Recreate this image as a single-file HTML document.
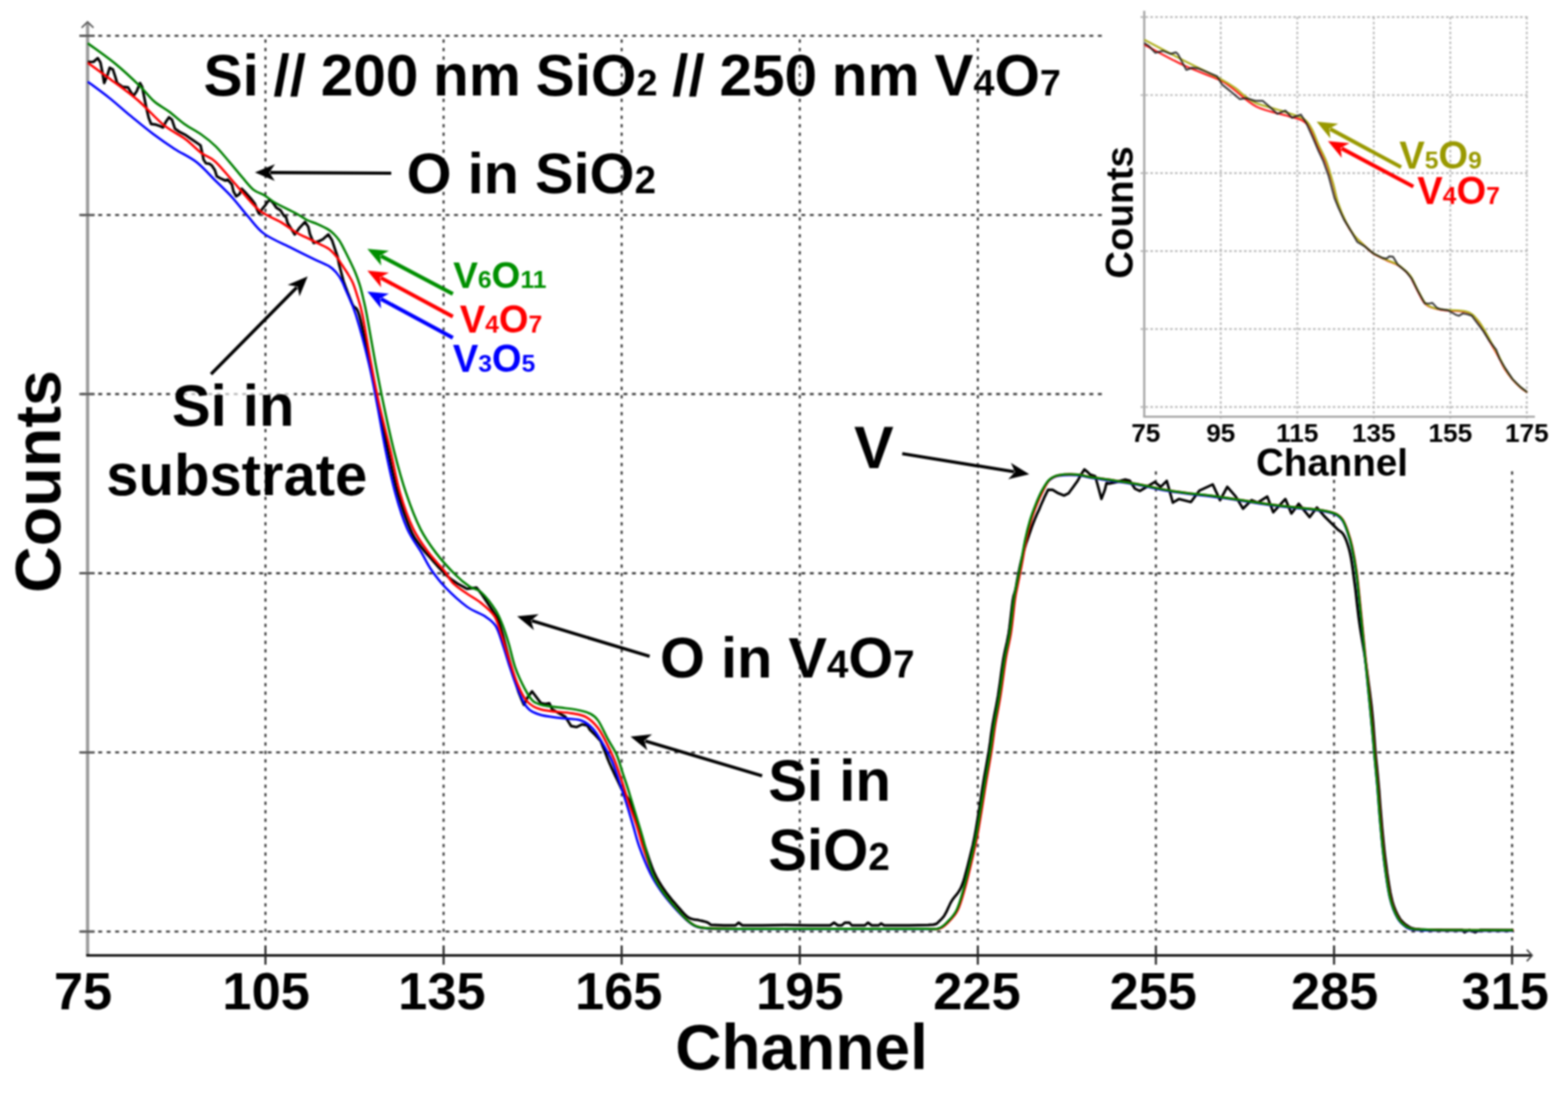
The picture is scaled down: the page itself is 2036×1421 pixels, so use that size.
<!DOCTYPE html>
<html><head><meta charset="utf-8"><title>RBS spectrum</title>
<style>html,body{margin:0;padding:0;background:#fff;width:2036px;height:1421px;overflow:hidden}svg{display:block;filter:blur(0.8px)}</style>
</head><body>
<svg width="2036" height="1421" viewBox="0 0 2036 1421">
<rect width="2036" height="1421" fill="#fff"/>
<line x1="105.6" y1="46.5" x2="1438.0" y2="46.5" stroke="#333" stroke-width="2.6" stroke-dasharray="5 6" fill="none"/>
<line x1="105.6" y1="279.2" x2="1438.0" y2="279.2" stroke="#333" stroke-width="2.6" stroke-dasharray="5 6" fill="none"/>
<line x1="105.6" y1="511.9" x2="1438.0" y2="511.9" stroke="#333" stroke-width="2.6" stroke-dasharray="5 6" fill="none"/>
<line x1="105.6" y1="744.6" x2="1966.0" y2="744.6" stroke="#333" stroke-width="2.6" stroke-dasharray="5 6" fill="none"/>
<line x1="105.6" y1="977.3" x2="1966.0" y2="977.3" stroke="#333" stroke-width="2.6" stroke-dasharray="5 6" fill="none"/>
<line x1="105.6" y1="1210.0" x2="1966.0" y2="1210.0" stroke="#333" stroke-width="2.6" stroke-dasharray="5 6" fill="none"/>
<line x1="344.7" y1="51.2" x2="344.7" y2="1228" stroke="#333" stroke-width="2.6" stroke-dasharray="4.4 6.6" fill="none"/>
<line x1="576.0" y1="51.2" x2="576.0" y2="1228" stroke="#333" stroke-width="2.6" stroke-dasharray="4.4 6.6" fill="none"/>
<line x1="807.2" y1="51.2" x2="807.2" y2="1228" stroke="#333" stroke-width="2.6" stroke-dasharray="4.4 6.6" fill="none"/>
<line x1="1038.5" y1="51.2" x2="1038.5" y2="1228" stroke="#333" stroke-width="2.6" stroke-dasharray="4.4 6.6" fill="none"/>
<line x1="1269.7" y1="51.2" x2="1269.7" y2="1228" stroke="#333" stroke-width="2.6" stroke-dasharray="4.4 6.6" fill="none"/>
<line x1="1500.9" y1="51.2" x2="1500.9" y2="1228" stroke="#333" stroke-width="2.6" stroke-dasharray="4.4 6.6" fill="none"/>
<line x1="1732.2" y1="51.2" x2="1732.2" y2="1228" stroke="#333" stroke-width="2.6" stroke-dasharray="4.4 6.6" fill="none"/>
<line x1="1963.4" y1="51.2" x2="1963.4" y2="1228" stroke="#333" stroke-width="2.6" stroke-dasharray="4.4 6.6" fill="none"/>
<line x1="113.7" y1="29" x2="113.7" y2="1242" stroke="#9a9a9a" stroke-width="4.2"/>
<polyline points="106,36 113.7,28.5 121.4,36" fill="none" stroke="#555" stroke-width="2"/>
<line x1="112" y1="1241" x2="1988" y2="1241" stroke="#000" stroke-width="2.8"/>
<polyline points="1982.5,1233.5 1989.5,1241 1982.5,1248.5" fill="none" stroke="#444" stroke-width="2"/>
<line x1="344.7" y1="1228" x2="344.7" y2="1253" stroke="#222" stroke-width="2.6"/>
<line x1="576.0" y1="1228" x2="576.0" y2="1253" stroke="#222" stroke-width="2.6"/>
<line x1="807.2" y1="1228" x2="807.2" y2="1253" stroke="#222" stroke-width="2.6"/>
<line x1="1038.5" y1="1228" x2="1038.5" y2="1253" stroke="#222" stroke-width="2.6"/>
<line x1="1269.7" y1="1228" x2="1269.7" y2="1253" stroke="#222" stroke-width="2.6"/>
<line x1="1500.9" y1="1228" x2="1500.9" y2="1253" stroke="#222" stroke-width="2.6"/>
<line x1="1732.2" y1="1228" x2="1732.2" y2="1253" stroke="#222" stroke-width="2.6"/>
<line x1="1963.4" y1="1228" x2="1963.4" y2="1253" stroke="#222" stroke-width="2.6"/>
<line x1="103" y1="46.5" x2="123" y2="46.5" stroke="#555" stroke-width="2.8"/>
<line x1="103" y1="279.2" x2="123" y2="279.2" stroke="#555" stroke-width="2.8"/>
<line x1="103" y1="511.9" x2="123" y2="511.9" stroke="#555" stroke-width="2.8"/>
<line x1="103" y1="744.6" x2="123" y2="744.6" stroke="#555" stroke-width="2.8"/>
<line x1="103" y1="977.3" x2="123" y2="977.3" stroke="#555" stroke-width="2.8"/>
<line x1="103" y1="1210.0" x2="123" y2="1210.0" stroke="#555" stroke-width="2.8"/>
<path d="M114.0 80.4 L121.3 80.4 126.9 75.5 130.4 81.1 133.2 95.2 135.3 107.9 139.6 97.3 142.4 88.1 146.6 90.3 149.4 98.7 152.2 107.9 159.3 112.8 166.3 113.5 170.5 120.5 173.3 124.7 177.6 118.4 181.8 107.9 184.6 112.8 187.4 126.9 190.2 140.9 193.1 153.2 196.2 161.0 201.6 161.7 208.6 164.1 211.7 165.6 215.5 157.9 219.4 152.4 223.3 155.5 227.2 167.2 232.6 171.0 240.3 174.9 248.1 180.3 255.8 185.7 260.4 188.8 262.8 199.7 264.3 207.4 267.4 212.1 272.1 212.8 275.2 215.2 279.0 221.0 281.5 229.0 286.0 231.5 292.7 234.6 295.5 233.2 301.1 239.6 303.2 248.7 306.7 255.0 311.0 252.2 313.8 245.2 319.4 250.8 325.7 257.9 330.7 264.2 334.2 273.3 336.3 277.6 341.2 270.5 344.7 266.3 347.6 262.1 350.4 259.3 354.6 263.5 358.8 269.8 364.4 273.3 368.7 280.4 371.4 282.0 373.5 289.7 382.7 304.5 388.3 296.7 396.0 288.3 400.3 294.6 402.4 303.8 407.3 315.7 415.0 312.9 419.3 310.8 426.3 304.5 431.2 312.2 434.7 322.8 438.3 333.3 440.4 343.9 443.2 354.4 446.0 365.0 448.5 372.0 449.0 373.4 449.8 375.4 450.7 377.8 451.6 380.3 452.6 382.7 453.5 385.0 454.3 387.1 455.1 389.1 455.8 391.0 456.6 393.0 457.5 395.0 458.5 397.0 459.6 398.4 460.7 399.2 461.9 399.9 463.2 401.4 464.7 404.3 466.4 409.3 468.4 417.0 470.7 426.9 473.2 438.2 475.8 450.1 478.2 461.9 480.5 472.6 482.5 482.4 484.4 491.8 486.3 501.1 488.1 510.3 489.9 519.5 491.8 528.9 493.8 538.5 495.8 548.1 497.8 557.8 499.9 567.4 501.9 577.0 504.0 586.4 506.0 595.7 508.0 605.0 510.0 614.2 512.1 623.2 514.2 632.1 516.5 640.6 519.0 649.1 521.7 657.6 524.5 665.9 527.3 673.7 530.0 680.8 532.5 687.0 534.8 692.0 536.8 696.0 538.8 699.3 540.8 702.2 542.8 705.0 545.0 708.0 547.3 711.2 549.7 714.1 552.1 717.1 554.7 720.0 557.3 722.9 560.0 726.0 562.9 729.3 566.1 732.9 569.3 736.5 572.6 740.0 575.6 743.2 578.4 746.0 580.8 748.3 582.9 750.1 584.9 751.7 586.8 753.1 588.8 754.5 591.0 756.0 593.6 757.7 596.5 759.4 599.5 761.1 602.3 762.6 604.7 763.9 606.4 764.9 618.8 763.3 625.0 771.1 637.4 789.7 646.7 803.6 653.0 825.0 660.0 852.0 667.0 878.0 673.0 898.0 677.0 908.0 680.3 915.5 685.0 906.0 690.8 898.0 699.3 909.3 702.8 913.5 708.0 914.5 713.3 913.5 716.9 921.2 725.0 926.0 734.0 931.0 738.0 937.4 741.5 943.0 748.5 944.4 755.6 940.9 762.6 942.3 766.1 948.0 773.2 955.0 779.1 961.5 779.8 962.2 780.7 964.5 781.8 967.3 783.0 970.3 784.2 973.2 785.3 976.0 786.3 978.5 787.3 981.0 788.2 983.5 789.2 986.0 790.3 988.7 791.5 991.5 792.9 994.6 794.4 998.0 796.1 1001.5 797.7 1005.1 799.3 1008.5 800.8 1011.6 802.1 1014.4 803.4 1017.1 804.6 1019.6 805.8 1022.1 807.1 1024.6 808.5 1027.1 810.0 1029.5 811.7 1031.7 813.4 1033.9 815.1 1036.3 816.8 1039.1 818.5 1042.6 820.2 1046.9 821.9 1051.9 823.6 1057.4 825.2 1063.0 826.9 1068.4 828.5 1073.5 830.0 1078.1 831.5 1082.4 832.9 1086.6 834.3 1090.8 835.8 1095.2 837.5 1100.0 839.3 1105.3 841.2 1111.1 843.2 1117.0 845.3 1122.9 847.4 1128.5 849.5 1133.6 851.7 1138.1 853.9 1142.2 856.1 1146.0 858.4 1149.6 860.7 1153.1 863.0 1156.5 865.3 1159.8 867.7 1162.9 870.1 1165.9 872.5 1168.8 875.0 1171.6 877.5 1174.5 880.1 1177.5 882.8 1180.7 885.6 1183.9 888.4 1186.9 891.1 1189.5 893.6 1191.5 896.0 1192.9 898.4 1193.7 900.6 1194.2 902.8 1194.5 905.0 1194.7 907.0 1195.1 909.0 1195.6 911.0 1196.0 912.9 1196.5 914.6 1196.9 916.3 1197.3 917.7 1197.8 919.0 1198.4 920.1 1199.0 921.0 1199.7 921.8 1200.3 922.5 1200.8 923.0 1201.2 940.0 1202.0 955.0 1202.0 959.0 1198.5 964.0 1202.0 990.0 1202.0 1020.0 1201.5 1050.0 1202.0 1078.0 1202.0 1083.0 1198.5 1088.0 1202.0 1093.0 1202.0 1097.0 1198.5 1103.0 1198.5 1106.0 1202.0 1123.0 1202.0 1127.0 1198.5 1132.0 1202.0 1141.0 1202.0 1144.0 1199.5 1148.0 1202.0 1180.0 1202.0 1205.0 1201.5 1212.0 1201.0 1215.9 1200.0 1217.2 1198.9 1218.2 1197.9 1219.6 1196.6 1221.2 1195.1 1223.0 1193.2 1224.8 1191.2 1226.4 1188.9 1227.9 1186.2 1229.5 1183.1 1231.0 1179.8 1232.6 1176.4 1234.1 1173.1 1235.7 1170.3 1237.3 1167.9 1238.9 1165.8 1240.5 1163.8 1242.1 1161.9 1243.6 1160.0 1245.0 1157.9 1246.2 1155.8 1247.2 1154.0 1248.2 1152.0 1249.1 1149.8 1250.1 1147.2 1251.2 1144.0 1252.4 1140.0 1253.7 1135.2 1255.1 1130.0 1256.5 1124.7 1257.8 1119.5 1259.0 1114.6 1260.1 1110.2 1261.1 1106.1 1262.1 1102.1 1263.1 1098.1 1264.0 1093.8 1265.0 1089.0 1266.0 1083.8 1267.0 1078.2 1268.0 1072.3 1269.0 1066.3 1270.0 1060.1 1271.0 1054.0 1272.0 1047.8 1273.0 1041.5 1273.9 1035.0 1274.9 1028.5 1275.9 1022.0 1277.0 1015.5 1278.1 1008.9 1279.3 1002.3 1280.5 995.6 1281.7 988.9 1282.8 982.4 1283.9 976.0 1284.8 969.9 1285.7 963.9 1286.4 958.1 1287.2 952.3 1288.1 946.5 1289.0 940.5 1290.1 934.5 1291.2 928.6 1292.4 922.6 1293.6 916.5 1294.8 910.1 1296.0 903.3 1297.1 895.8 1298.3 887.8 1299.4 879.4 1300.5 871.1 1301.7 863.2 1302.8 856.0 1304.0 849.7 1305.2 844.0 1306.4 838.8 1307.6 833.6 1308.7 828.2 1309.8 822.2 1310.8 815.3 1311.7 807.7 1312.6 799.9 1313.5 792.3 1314.3 785.5 1315.0 780.0 1315.7 776.2 1316.2 773.8 1316.7 772.2 1317.2 770.7 1317.8 768.8 1318.5 765.8 1319.4 761.5 1320.3 756.4 1321.3 750.8 1322.4 745.1 1323.5 739.7 1324.5 734.8 1325.5 730.5 1326.5 726.4 1327.5 722.6 1328.5 718.9 1329.5 715.4 1330.5 712.0 1331.5 708.7 1332.5 705.5 1333.6 702.5 1334.6 699.5 1335.6 696.7 1336.5 694.0 1337.4 691.4 1338.3 688.9 1339.1 686.5 1339.9 684.2 1340.7 682.1 1341.5 680.0 1342.2 678.1 1342.9 676.3 1343.6 674.6 1344.2 673.0 1344.9 671.5 1345.5 670.0 1346.1 668.6 1346.6 667.5 1347.2 666.3 1347.8 665.1 1348.4 663.7 1349.2 662.0 1350.1 659.8 1351.2 657.2 1352.4 654.4 1353.6 651.6 1354.8 649.0 1355.8 646.6 1356.8 644.5 1357.8 642.4 1358.8 640.5 1359.6 638.8 1360.4 637.4 1360.9 636.3 1366.8 636.3 1374.2 640.7 1381.6 643.6 1387.5 640.7 1394.1 631.8 1399.3 624.5 1403.7 616.4 1408.1 609.7 1412.5 613.4 1415.5 616.4 1422.1 618.6 1425.0 628.9 1430.2 648.0 1434.6 636.3 1436.8 627.4 1440.5 628.2 1447.9 626.7 1455.3 624.5 1461.1 623.0 1467.0 624.5 1473.7 634.8 1480.0 637.7 1488.0 633.0 1499.3 626.1 1507.2 632.4 1515.0 624.6 1522.9 652.9 1530.7 648.2 1546.4 652.1 1557.4 637.2 1574.7 629.3 1584.2 649.7 1593.6 632.4 1604.6 645.0 1614.0 660.7 1625.0 649.7 1632.9 652.9 1645.5 645.0 1653.3 665.4 1669.0 648.2 1676.9 667.0 1686.3 654.4 1700.5 671.7 1709.9 659.2 1719.3 670.2 1727.2 678.0 1728.2 679.0 1729.7 680.5 1731.4 682.2 1733.2 684.0 1735.0 685.8 1736.6 687.4 1738.1 688.7 1739.6 689.7 1741.0 690.7 1742.5 691.9 1743.9 693.5 1745.3 695.8 1746.7 698.7 1748.1 702.0 1749.4 705.7 1750.7 709.8 1752.0 714.4 1753.2 719.4 1754.3 724.9 1755.3 731.0 1756.3 737.5 1757.2 744.3 1758.1 751.5 1759.1 758.8 1760.1 766.4 1761.0 774.5 1761.9 782.8 1762.9 791.3 1763.9 799.8 1765.0 808.1 1766.2 816.2 1767.5 824.1 1768.8 832.1 1770.2 840.2 1771.6 848.5 1772.9 857.3 1774.3 866.8 1775.7 877.1 1777.1 887.6 1778.5 897.9 1779.7 907.7 1780.8 916.5 1781.6 924.3 1782.3 931.5 1782.9 938.0 1783.4 944.1 1783.8 949.7 1784.2 955.0 1784.6 959.5 1784.8 963.0 1785.1 966.1 1785.3 969.2 1785.6 972.8 1786.0 977.5 1786.5 983.2 1787.2 989.6 1787.9 996.5 1788.6 1003.8 1789.3 1011.2 1790.0 1018.8 1790.7 1026.5 1791.3 1034.6 1791.9 1042.9 1792.6 1051.3 1793.3 1059.7 1794.0 1068.0 1794.7 1076.2 1795.5 1084.4 1796.3 1092.6 1797.1 1100.7 1798.0 1108.9 1799.0 1117.0 1800.1 1125.3 1801.2 1133.9 1802.5 1142.5 1803.8 1150.7 1805.1 1158.3 1806.5 1165.0 1807.9 1170.7 1809.4 1175.7 1811.0 1180.0 1812.6 1183.8 1814.3 1187.3 1816.0 1190.5 1817.8 1193.4 1819.6 1195.8 1821.6 1197.8 1823.5 1199.6 1825.5 1201.1 1827.5 1202.5 1829.3 1203.7 1830.9 1204.6 1832.6 1205.3 1834.5 1205.9 1836.9 1206.4 1840.0 1206.8 1844.0 1207.2 1848.7 1207.4 1854.0 1207.6 1859.4 1207.6 1864.9 1207.7 1870.0 1207.8 1875.2 1207.9 1880.8 1207.9 1886.4 1208.0 1891.5 1208.0 1895.9 1208.0 1899.0 1208.0 1901.6 1211.0 1908.0 1208.0 1915.4 1211.0 1922.0 1208.0 1965.0 1208.2" fill="none" stroke="#000000" stroke-width="3.4" stroke-linejoin="round"/>
<path d="M114.0 106.1 C118.7 109.6 132.8 119.8 142.2 127.3 C151.6 134.8 161.0 143.5 170.4 151.2 C179.8 158.9 189.1 166.7 198.5 173.7 C207.9 180.7 217.3 187.3 226.7 193.4 C236.1 199.5 245.9 203.4 254.8 210.3 C263.7 217.2 272.3 227.3 280.0 234.9 C287.7 242.5 294.1 248.3 301.1 256.0 C308.1 263.7 315.2 273.3 322.2 281.3 C329.2 289.3 333.9 297.1 343.3 303.9 C352.7 310.7 367.9 316.8 378.5 322.2 C389.1 327.6 398.5 332.2 406.7 336.2 C414.9 340.2 422.8 343.1 427.8 346.1 C432.8 349.1 434.2 351.2 436.9 354.4 C439.6 357.5 441.8 361.1 443.9 365.0 C446.0 368.9 446.4 370.6 449.5 378.0 C452.6 385.4 457.3 393.5 462.2 409.3 C467.1 425.1 474.4 452.7 479.1 472.6 C483.8 492.5 486.8 509.9 490.4 528.9 C494.0 547.9 497.2 567.8 501.0 586.4 C504.8 605.0 508.7 623.8 513.3 640.6 C517.9 657.4 523.1 674.1 528.8 687.0 C534.5 699.9 542.2 709.1 547.4 718.0 C552.6 726.9 554.8 732.6 560.0 740.1 C565.2 747.6 570.9 755.3 578.6 763.3 C586.3 771.3 597.9 781.9 606.4 788.1 C614.9 794.3 623.5 796.4 629.7 800.5 C635.9 804.6 639.7 806.7 643.6 812.9 C647.5 819.1 649.8 828.7 652.9 837.7 C656.0 846.7 659.1 857.8 662.2 867.1 C665.3 876.4 667.9 884.9 671.5 893.4 C675.1 901.9 679.1 912.4 683.9 918.2 C688.7 924.0 693.0 925.6 700.1 928.0 C707.2 930.4 717.4 931.3 726.4 932.6 C735.4 933.9 747.1 933.4 754.3 935.7 C761.5 938.0 765.1 941.7 769.8 946.6 C774.4 951.5 778.1 958.2 782.2 965.2 C786.3 972.2 791.0 980.1 794.6 988.4 C798.2 996.6 800.8 1005.7 803.9 1014.7 C807.0 1023.7 810.0 1032.8 813.1 1042.6 C816.2 1052.4 819.5 1063.9 822.4 1073.5 C825.2 1083.1 826.6 1090.0 830.2 1100.0 C833.8 1110.0 839.3 1124.0 844.0 1133.6 C848.7 1143.2 853.5 1150.5 858.5 1157.7 C863.5 1164.9 868.6 1170.9 874.0 1177.0 C879.4 1183.1 885.9 1190.1 890.9 1194.5 C895.9 1198.9 899.4 1201.6 904.3 1203.6 C909.2 1205.5 911.1 1205.7 920.4 1206.2 C929.7 1206.7 930.1 1206.7 960.0 1206.8 C989.9 1206.9 1060.0 1206.8 1100.0 1206.8 C1140.0 1206.8 1180.1 1206.9 1200.0 1206.8 C1219.9 1206.7 1214.2 1207.3 1219.2 1205.9 C1224.2 1204.5 1226.1 1202.1 1230.0 1198.2 C1233.9 1194.3 1238.8 1189.9 1242.4 1182.7 C1246.0 1175.5 1248.9 1164.6 1251.7 1154.8 C1254.5 1145.0 1256.9 1134.7 1259.5 1123.9 C1262.1 1113.1 1264.9 1101.4 1267.2 1089.8 C1269.5 1078.2 1271.3 1066.6 1273.4 1054.2 C1275.5 1041.8 1277.4 1028.5 1279.6 1015.5 C1281.8 1002.5 1284.4 988.5 1286.4 976.0 C1288.4 963.5 1289.5 952.6 1291.5 940.5 C1293.5 928.4 1296.0 917.4 1298.2 903.3 C1300.5 889.2 1302.8 869.5 1305.0 856.0 C1307.2 842.5 1309.7 834.9 1311.7 822.2 C1313.7 809.5 1315.5 789.4 1316.8 780.0 C1318.1 770.6 1317.8 773.3 1319.3 765.8 C1320.8 758.3 1323.4 745.6 1325.5 734.8 C1327.6 724.0 1329.6 710.6 1331.7 700.8 C1333.8 691.0 1335.6 683.8 1337.9 676.0 C1340.2 668.2 1343.1 660.8 1345.7 654.3 C1348.3 647.8 1350.7 642.3 1353.4 637.3 C1356.2 632.3 1358.7 627.3 1362.2 624.1 C1365.7 620.9 1368.4 619.1 1374.6 618.0 C1380.8 616.9 1392.6 616.8 1399.3 617.2 C1406.0 617.6 1407.0 619.0 1414.8 620.3 C1422.5 621.6 1434.9 623.2 1445.8 624.9 C1456.7 626.6 1467.2 628.0 1480.0 630.3 C1492.8 632.6 1505.3 636.0 1522.9 638.7 C1540.5 641.4 1564.8 643.7 1585.7 646.6 C1606.7 649.5 1627.6 653.2 1648.6 656.0 C1669.6 658.8 1697.4 661.1 1711.5 663.1 C1725.6 665.1 1727.8 665.7 1733.0 667.8 C1738.2 669.9 1740.2 671.9 1742.9 675.7 C1745.7 679.5 1747.5 685.0 1749.5 690.8 C1751.5 696.6 1753.3 701.6 1755.2 710.4 C1757.1 719.2 1759.1 729.0 1761.1 743.8 C1763.1 758.6 1765.0 780.0 1767.0 799.0 C1769.0 818.0 1770.9 838.4 1772.9 858.1 C1774.9 877.8 1777.3 901.8 1778.8 917.3 C1780.3 932.8 1781.1 940.6 1782.0 950.8 C1782.9 961.0 1783.4 966.8 1784.4 978.3 C1785.5 989.8 1787.0 1004.5 1788.3 1019.6 C1789.6 1034.7 1790.7 1052.5 1792.2 1068.9 C1793.7 1085.3 1795.1 1101.8 1797.2 1118.2 C1799.3 1134.6 1802.0 1155.0 1805.0 1167.5 C1808.0 1180.0 1811.3 1186.9 1814.9 1193.1 C1818.5 1199.3 1822.8 1202.4 1826.7 1204.9 C1830.7 1207.4 1831.4 1207.2 1838.6 1207.9 C1845.8 1208.5 1848.9 1208.6 1870.0 1208.8 C1891.1 1209.0 1949.2 1209.0 1965.0 1209.1" fill="none" stroke="#0000ff" stroke-width="3" stroke-linejoin="round"/>
<path d="M114.0 81.5 C118.7 84.9 131.2 93.9 142.0 102.0 C152.8 110.1 167.0 119.9 178.8 130.0 C190.6 140.1 202.3 154.0 212.6 162.4 C222.9 170.8 232.5 174.6 240.7 180.7 C248.9 186.8 255.3 194.1 261.9 199.0 C268.4 203.9 272.3 203.2 280.0 210.3 C287.7 217.5 298.7 231.5 308.1 241.9 C317.5 252.3 326.9 265.1 336.3 272.9 C345.7 280.6 356.4 283.6 364.4 288.4 C372.4 293.2 378.5 298.3 384.1 301.7 C389.7 305.1 393.4 306.4 398.1 308.7 C402.8 311.0 407.5 313.3 412.2 315.7 C416.9 318.1 422.2 319.9 426.3 322.8 C430.4 325.7 434.0 329.8 436.9 333.3 C439.8 336.8 441.6 340.4 443.9 343.9 C446.2 347.4 448.5 350.5 450.9 354.4 C453.2 358.3 455.9 362.3 458.0 367.1 C460.1 371.9 461.4 376.0 463.5 383.0 C465.6 390.0 467.6 394.4 470.7 409.3 C473.8 424.2 478.1 452.7 481.9 472.6 C485.6 492.5 489.0 509.9 493.2 528.9 C497.4 547.9 502.8 567.8 507.2 586.4 C511.6 605.0 514.6 623.8 519.5 640.6 C524.4 657.4 530.4 674.1 536.6 687.0 C542.8 699.9 550.0 709.0 556.7 718.0 C563.4 727.0 571.6 734.8 576.8 741.3 C582.0 747.8 582.8 752.0 587.7 757.0 C592.6 762.0 600.2 766.7 606.4 771.1 C612.6 775.5 619.0 778.6 625.0 783.5 C631.0 788.4 637.7 793.5 642.1 800.5 C646.5 807.5 648.2 816.3 651.3 825.3 C654.4 834.3 657.2 844.4 660.6 854.7 C664.0 865.0 667.6 877.9 671.5 887.2 C675.4 896.5 678.6 904.6 683.9 910.4 C689.2 916.2 693.5 919.1 703.2 921.8 C712.9 924.5 732.4 924.8 741.9 926.4 C751.4 928.0 754.8 928.0 760.5 931.1 C766.2 934.2 771.4 939.1 776.0 945.0 C780.6 950.9 784.8 959.7 788.4 966.7 C792.0 973.7 794.6 979.1 797.7 986.8 C800.8 994.5 803.9 1003.8 807.0 1013.1 C810.1 1022.4 812.9 1032.5 816.2 1042.6 C819.6 1052.7 824.0 1063.9 827.1 1073.5 C830.2 1083.1 831.5 1090.0 834.8 1100.0 C838.1 1110.0 842.6 1124.0 846.8 1133.6 C851.0 1143.2 855.5 1150.6 860.2 1157.7 C864.9 1164.8 869.8 1170.4 874.9 1176.4 C880.0 1182.4 886.0 1189.3 890.9 1193.8 C895.8 1198.3 899.4 1201.2 904.3 1203.2 C909.2 1205.2 911.1 1205.2 920.4 1205.8 C929.7 1206.3 930.1 1206.4 960.0 1206.5 C989.9 1206.6 1060.0 1206.5 1100.0 1206.5 C1140.0 1206.5 1180.0 1206.6 1200.0 1206.5 C1220.0 1206.4 1215.0 1207.3 1220.2 1205.9 C1225.4 1204.5 1227.1 1202.1 1231.0 1198.2 C1234.9 1194.3 1239.8 1189.9 1243.4 1182.7 C1247.0 1175.5 1249.9 1164.6 1252.7 1154.8 C1255.5 1145.0 1257.9 1134.7 1260.5 1123.9 C1263.1 1113.1 1265.9 1101.4 1268.2 1089.8 C1270.5 1078.2 1272.3 1066.6 1274.4 1054.2 C1276.5 1041.8 1278.4 1028.5 1280.6 1015.5 C1282.8 1002.5 1285.4 988.5 1287.4 976.0 C1289.4 963.5 1290.5 952.6 1292.5 940.5 C1294.5 928.4 1297.0 917.4 1299.2 903.3 C1301.5 889.2 1303.8 869.5 1306.0 856.0 C1308.2 842.5 1310.7 834.9 1312.7 822.2 C1314.7 809.5 1316.5 789.4 1317.8 780.0 C1319.1 770.6 1318.8 773.3 1320.3 765.8 C1321.8 758.3 1324.4 745.6 1326.5 734.8 C1328.6 724.0 1330.6 710.6 1332.7 700.8 C1334.8 691.0 1336.6 683.8 1338.9 676.0 C1341.2 668.2 1344.1 660.8 1346.7 654.3 C1349.3 647.8 1351.7 642.5 1354.4 637.3 C1357.1 632.1 1359.2 626.6 1362.7 623.3 C1366.2 619.9 1368.9 618.4 1375.1 617.2 C1381.3 616.1 1393.1 616.0 1399.8 616.4 C1406.5 616.8 1407.5 618.2 1415.3 619.5 C1423.0 620.8 1435.4 622.4 1446.3 624.1 C1457.2 625.8 1467.7 627.2 1480.5 629.5 C1493.3 631.8 1505.8 635.2 1523.4 637.9 C1541.0 640.6 1565.2 642.9 1586.2 645.8 C1607.2 648.7 1628.1 652.5 1649.1 655.2 C1670.1 658.0 1697.9 660.3 1712.0 662.3 C1726.1 664.3 1728.3 664.9 1733.5 667.0 C1738.7 669.1 1740.7 671.1 1743.4 674.9 C1746.2 678.7 1748.0 684.2 1750.0 690.0 C1752.0 695.8 1753.8 700.8 1755.7 709.6 C1757.6 718.4 1759.6 728.2 1761.6 743.0 C1763.6 757.8 1765.5 779.2 1767.5 798.2 C1769.5 817.2 1771.4 837.6 1773.4 857.3 C1775.4 877.0 1777.8 901.0 1779.3 916.5 C1780.8 932.0 1781.6 939.8 1782.5 950.0 C1783.4 960.2 1783.9 966.0 1784.9 977.5 C1786.0 989.0 1787.5 1003.7 1788.8 1018.8 C1790.1 1033.9 1791.2 1051.7 1792.7 1068.1 C1794.2 1084.5 1795.6 1101.0 1797.7 1117.4 C1799.8 1133.8 1802.5 1154.2 1805.5 1166.7 C1808.5 1179.2 1811.8 1186.1 1815.4 1192.3 C1819.0 1198.5 1823.2 1201.6 1827.2 1204.1 C1831.2 1206.6 1831.9 1206.4 1839.1 1207.1 C1846.3 1207.8 1849.4 1207.8 1870.5 1208.0 C1891.6 1208.2 1949.7 1208.2 1965.5 1208.3" fill="none" stroke="#ff0000" stroke-width="3" stroke-linejoin="round"/>
<path d="M114.0 56.2 C120.0 60.7 138.7 73.7 150.0 83.0 C161.3 92.3 173.3 103.7 181.6 111.8 C189.9 119.9 193.7 126.0 200.0 131.5 C206.3 137.0 212.9 140.0 219.6 145.0 C226.3 150.0 232.9 156.5 240.0 161.5 C247.1 166.5 255.2 170.3 261.9 175.1 C268.6 179.8 274.1 184.2 280.0 190.0 C285.9 195.8 291.7 203.2 297.6 210.0 C303.5 216.8 309.9 225.0 315.2 231.1 C320.5 237.2 324.6 242.8 329.3 246.6 C334.0 250.3 338.6 250.8 343.3 253.6 C348.0 256.4 350.6 259.6 357.4 263.5 C364.2 267.4 377.3 273.3 384.1 277.0 C390.9 280.7 393.4 283.1 398.1 285.5 C402.8 287.9 407.5 289.0 412.2 291.1 C416.9 293.2 422.8 296.0 426.3 298.1 C429.8 300.2 431.0 301.5 433.3 303.8 C435.6 306.1 438.0 308.7 440.4 312.2 C442.8 315.7 445.1 320.4 447.4 324.9 C449.7 329.4 452.0 334.1 454.4 339.0 C456.8 343.9 459.4 349.2 461.5 354.4 C463.6 359.6 465.4 364.6 467.1 370.0 C468.8 375.4 470.0 380.4 471.5 387.0 C473.0 393.6 473.6 395.0 476.3 409.3 C479.0 423.6 483.9 452.7 487.6 472.6 C491.4 492.5 494.8 509.9 498.8 528.9 C502.8 547.9 507.1 567.8 511.8 586.4 C516.5 605.0 521.6 623.8 527.3 640.6 C533.0 657.4 539.4 674.1 545.9 687.0 C552.4 699.9 558.5 708.1 566.0 718.0 C573.5 727.9 583.8 739.0 591.0 746.3 C598.2 753.6 603.8 757.9 609.5 761.8 C615.2 765.7 619.3 764.3 625.0 769.5 C630.7 774.7 639.0 785.6 643.6 792.8 C648.2 800.0 650.1 805.7 652.9 812.9 C655.7 820.1 657.9 827.1 660.6 836.1 C663.3 845.1 665.5 857.1 669.0 867.0 C672.5 876.9 677.8 887.9 681.7 895.2 C685.6 902.5 688.1 907.2 692.2 910.7 C696.3 914.2 700.4 914.9 706.3 916.3 C712.2 917.7 720.4 918.2 727.4 919.1 C734.4 920.0 742.0 920.6 748.5 921.9 C755.0 923.2 761.4 924.5 766.1 926.9 C770.8 929.2 772.8 930.5 776.7 936.0 C780.6 941.5 785.3 952.6 789.3 960.0 C793.3 967.4 797.6 973.3 800.8 980.6 C804.0 987.9 805.9 996.1 808.5 1003.9 C811.1 1011.6 813.4 1018.1 816.2 1027.1 C819.0 1036.1 822.4 1047.7 825.5 1058.0 C828.6 1068.3 831.2 1076.4 834.8 1089.0 C838.3 1101.6 842.6 1122.1 846.8 1133.6 C851.0 1145.0 855.5 1150.6 860.2 1157.7 C864.9 1164.8 869.8 1170.4 874.9 1176.4 C880.0 1182.4 886.0 1189.3 890.9 1193.8 C895.8 1198.3 899.4 1201.2 904.3 1203.2 C909.2 1205.2 911.1 1205.2 920.4 1205.8 C929.7 1206.3 930.1 1206.4 960.0 1206.5 C989.9 1206.6 1060.0 1206.5 1100.0 1206.5 C1140.0 1206.5 1180.2 1206.6 1200.0 1206.5 C1219.8 1206.4 1213.8 1207.3 1218.7 1205.9 C1223.6 1204.5 1225.6 1202.1 1229.5 1198.2 C1233.4 1194.3 1238.3 1189.9 1241.9 1182.7 C1245.5 1175.5 1248.4 1164.6 1251.2 1154.8 C1254.0 1145.0 1256.4 1134.7 1259.0 1123.9 C1261.6 1113.1 1264.4 1101.4 1266.7 1089.8 C1269.0 1078.2 1270.8 1066.6 1272.9 1054.2 C1275.0 1041.8 1276.9 1028.5 1279.1 1015.5 C1281.3 1002.5 1283.9 988.5 1285.9 976.0 C1287.9 963.5 1289.0 952.6 1291.0 940.5 C1293.0 928.4 1295.5 917.4 1297.7 903.3 C1300.0 889.2 1302.2 869.5 1304.5 856.0 C1306.8 842.5 1309.2 834.9 1311.2 822.2 C1313.2 809.5 1315.0 789.4 1316.3 780.0 C1317.6 770.6 1317.3 773.3 1318.8 765.8 C1320.2 758.3 1322.9 745.6 1325.0 734.8 C1327.1 724.0 1329.1 710.6 1331.2 700.8 C1333.3 691.0 1335.1 683.8 1337.4 676.0 C1339.7 668.2 1342.6 660.8 1345.2 654.3 C1347.8 647.8 1350.1 642.5 1352.9 637.3 C1355.7 632.1 1358.6 626.6 1362.2 623.3 C1365.8 619.9 1368.4 618.4 1374.6 617.2 C1380.8 616.1 1392.6 616.0 1399.3 616.4 C1406.0 616.8 1407.0 618.2 1414.8 619.5 C1422.5 620.8 1434.9 622.4 1445.8 624.1 C1456.7 625.8 1467.2 627.2 1480.0 629.5 C1492.8 631.8 1505.3 635.2 1522.9 637.9 C1540.5 640.6 1564.8 642.9 1585.7 645.8 C1606.7 648.7 1627.6 652.5 1648.6 655.2 C1669.6 658.0 1697.4 660.3 1711.5 662.3 C1725.6 664.3 1727.8 664.9 1733.0 667.0 C1738.2 669.1 1740.2 671.1 1742.9 674.9 C1745.7 678.7 1747.5 684.2 1749.5 690.0 C1751.5 695.8 1753.3 700.8 1755.2 709.6 C1757.1 718.4 1759.1 728.2 1761.1 743.0 C1763.1 757.8 1765.0 779.2 1767.0 798.2 C1769.0 817.2 1770.9 837.6 1772.9 857.3 C1774.9 877.0 1777.3 901.0 1778.8 916.5 C1780.3 932.0 1781.1 939.8 1782.0 950.0 C1782.9 960.2 1783.4 966.0 1784.4 977.5 C1785.5 989.0 1787.0 1003.7 1788.3 1018.8 C1789.6 1033.9 1790.7 1051.7 1792.2 1068.1 C1793.7 1084.5 1795.1 1101.0 1797.2 1117.4 C1799.3 1133.8 1802.0 1154.2 1805.0 1166.7 C1808.0 1179.2 1811.3 1186.1 1814.9 1192.3 C1818.5 1198.5 1822.8 1201.6 1826.7 1204.1 C1830.7 1206.6 1831.4 1206.4 1838.6 1207.1 C1845.8 1207.8 1848.9 1207.8 1870.0 1208.0 C1891.1 1208.2 1949.2 1208.2 1965.0 1208.3" fill="none" stroke="#008000" stroke-width="3" stroke-linejoin="round"/>
<line x1="508.0" y1="225.0" x2="351.0" y2="224.1" stroke="#000" stroke-width="4.2"/><polygon points="331.0,224.0 357.1,213.3 349.7,224.1 356.9,234.9" fill="#000"/>
<line x1="274.0" y1="486.0" x2="385.4" y2="373.2" stroke="#000" stroke-width="4.2"/><polygon points="399.5,359.0 388.9,385.1 386.3,372.3 373.5,369.9" fill="#000"/>
<line x1="588.0" y1="381.8" x2="494.7" y2="332.5" stroke="#008f00" stroke-width="5.0"/><polygon points="477.0,323.2 505.0,325.8 493.6,331.9 495.0,344.9" fill="#008f00"/>
<line x1="588.0" y1="411.2" x2="494.6" y2="360.9" stroke="#ff0000" stroke-width="5.0"/><polygon points="477.0,351.4 505.0,354.2 493.5,360.3 494.8,373.2" fill="#ff0000"/>
<line x1="588.0" y1="438.7" x2="494.6" y2="388.3" stroke="#0000ff" stroke-width="5.0"/><polygon points="477.0,378.8 505.0,381.6 493.5,387.7 494.8,400.7" fill="#0000ff"/>
<line x1="843.5" y1="852.5" x2="690.6" y2="806.3" stroke="#000" stroke-width="4.2"/><polygon points="671.5,800.5 699.5,797.7 689.4,805.9 693.3,818.4" fill="#000"/>
<line x1="989.6" y1="1007.8" x2="837.9" y2="962.4" stroke="#000" stroke-width="4.2"/><polygon points="818.7,956.7 846.7,953.8 836.6,962.1 840.5,974.5" fill="#000"/>
<line x1="1171.5" y1="589.2" x2="1316.8" y2="612.8" stroke="#000" stroke-width="4.2"/><polygon points="1336.5,616.0 1309.1,622.5 1318.0,613.0 1312.6,601.2" fill="#000"/>
<rect x="222" y="505" width="160" height="14" fill="#fff" opacity="0.65"/>
<text x="264.2" y="123.7" font-size="76.0" fill="#000" text-anchor="start" style="font-family:'Liberation Sans',Arial,Helvetica,sans-serif;font-weight:bold" word-spacing="-2">Si // 200 nm SiO<tspan font-size="49.0">2</tspan> // 250 nm V<tspan font-size="49.0">4</tspan>O<tspan font-size="49.0">7</tspan></text>
<text x="528.0" y="250.9" font-size="75.0" fill="#000" text-anchor="start" style="font-family:'Liberation Sans',Arial,Helvetica,sans-serif;font-weight:bold" >O in SiO<tspan font-size="50.0">2</tspan></text>
<text x="588.5" y="373.9" font-size="48.0" fill="#009000" text-anchor="start" style="font-family:'Liberation Sans',Arial,Helvetica,sans-serif;font-weight:bold" >V<tspan font-size="32.0">6</tspan>O<tspan font-size="32.0">11</tspan></text>
<text x="597.0" y="431.6" font-size="49.5" fill="#ff0000" text-anchor="start" style="font-family:'Liberation Sans',Arial,Helvetica,sans-serif;font-weight:bold" >V<tspan font-size="32.0">4</tspan>O<tspan font-size="32.0">7</tspan></text>
<text x="588.0" y="483.0" font-size="49.5" fill="#0000ff" text-anchor="start" style="font-family:'Liberation Sans',Arial,Helvetica,sans-serif;font-weight:bold" >V<tspan font-size="32.0">3</tspan>O<tspan font-size="32.0">5</tspan></text>
<text x="302.7" y="552.8" font-size="75.3" fill="#000" text-anchor="middle" style="font-family:'Liberation Sans',Arial,Helvetica,sans-serif;font-weight:bold" >Si in</text>
<text x="307.5" y="642.9" font-size="75.3" fill="#000" text-anchor="middle" style="font-family:'Liberation Sans',Arial,Helvetica,sans-serif;font-weight:bold" >substrate</text>
<text x="1109.0" y="608.3" font-size="77.0" fill="#000" text-anchor="start" style="font-family:'Liberation Sans',Arial,Helvetica,sans-serif;font-weight:bold" >V</text>
<text x="857.0" y="879.7" font-size="75.0" fill="#000" text-anchor="start" style="font-family:'Liberation Sans',Arial,Helvetica,sans-serif;font-weight:bold" >O in V<tspan font-size="50.0">4</tspan>O<tspan font-size="50.0">7</tspan></text>
<text x="997.5" y="1040.2" font-size="75.5" fill="#000" text-anchor="start" style="font-family:'Liberation Sans',Arial,Helvetica,sans-serif;font-weight:bold" >Si in</text>
<text x="997.5" y="1129.6" font-size="75.5" fill="#000" text-anchor="start" style="font-family:'Liberation Sans',Arial,Helvetica,sans-serif;font-weight:bold" >SiO<tspan font-size="50.0">2</tspan></text>
<text x="1040.8" y="1389.3" font-size="83.2" fill="#000" text-anchor="middle" style="font-family:'Liberation Sans',Arial,Helvetica,sans-serif;font-weight:bold" >Channel</text>
<text x="0.0" y="0.0" font-size="84.0" fill="#000" text-anchor="middle" style="font-family:'Liberation Sans',Arial,Helvetica,sans-serif;font-weight:bold" transform="translate(78.3,625.5) rotate(-90)">Counts</text>
<text x="107.7" y="1311.0" font-size="68.0" fill="#000" text-anchor="middle" style="font-family:'Liberation Sans',Arial,Helvetica,sans-serif;font-weight:bold" >75</text>
<text x="345.6" y="1311.0" font-size="68.0" fill="#000" text-anchor="middle" style="font-family:'Liberation Sans',Arial,Helvetica,sans-serif;font-weight:bold" >105</text>
<text x="573.8" y="1311.0" font-size="68.0" fill="#000" text-anchor="middle" style="font-family:'Liberation Sans',Arial,Helvetica,sans-serif;font-weight:bold" >135</text>
<text x="803.4" y="1311.0" font-size="68.0" fill="#000" text-anchor="middle" style="font-family:'Liberation Sans',Arial,Helvetica,sans-serif;font-weight:bold" >165</text>
<text x="1038.5" y="1311.0" font-size="68.0" fill="#000" text-anchor="middle" style="font-family:'Liberation Sans',Arial,Helvetica,sans-serif;font-weight:bold" >195</text>
<text x="1268.5" y="1311.0" font-size="68.0" fill="#000" text-anchor="middle" style="font-family:'Liberation Sans',Arial,Helvetica,sans-serif;font-weight:bold" >225</text>
<text x="1497.4" y="1311.0" font-size="68.0" fill="#000" text-anchor="middle" style="font-family:'Liberation Sans',Arial,Helvetica,sans-serif;font-weight:bold" >255</text>
<text x="1732.9" y="1311.0" font-size="68.0" fill="#000" text-anchor="middle" style="font-family:'Liberation Sans',Arial,Helvetica,sans-serif;font-weight:bold" >285</text>
<text x="1954.4" y="1311.0" font-size="68.0" fill="#000" text-anchor="middle" style="font-family:'Liberation Sans',Arial,Helvetica,sans-serif;font-weight:bold" >315</text>
<rect x="1432" y="0" width="604" height="609" fill="#fff"/>
<line x1="1481" y1="22.2" x2="1984" y2="22.2" stroke="#b4b4b4" stroke-width="2.2" stroke-dasharray="3.2 3.2" fill="none"/>
<line x1="1481" y1="123.5" x2="1984" y2="123.5" stroke="#b4b4b4" stroke-width="2.2" stroke-dasharray="3.2 3.2" fill="none"/>
<line x1="1481" y1="224.8" x2="1984" y2="224.8" stroke="#b4b4b4" stroke-width="2.2" stroke-dasharray="3.2 3.2" fill="none"/>
<line x1="1481" y1="326.1" x2="1984" y2="326.1" stroke="#b4b4b4" stroke-width="2.2" stroke-dasharray="3.2 3.2" fill="none"/>
<line x1="1481" y1="427.4" x2="1984" y2="427.4" stroke="#b4b4b4" stroke-width="2.2" stroke-dasharray="3.2 3.2" fill="none"/>
<line x1="1481" y1="528.7" x2="1984" y2="528.7" stroke="#b4b4b4" stroke-width="2.2" stroke-dasharray="3.2 3.2" fill="none"/>
<line x1="1585.1" y1="22" x2="1585.1" y2="547" stroke="#b4b4b4" stroke-width="2.2" stroke-dasharray="3.2 3.2" fill="none"/>
<line x1="1684.5" y1="22" x2="1684.5" y2="547" stroke="#b4b4b4" stroke-width="2.2" stroke-dasharray="3.2 3.2" fill="none"/>
<line x1="1783.8" y1="22" x2="1783.8" y2="547" stroke="#b4b4b4" stroke-width="2.2" stroke-dasharray="3.2 3.2" fill="none"/>
<line x1="1883.2" y1="22" x2="1883.2" y2="547" stroke="#b4b4b4" stroke-width="2.2" stroke-dasharray="3.2 3.2" fill="none"/>
<line x1="1982.5" y1="22" x2="1982.5" y2="547" stroke="#b4b4b4" stroke-width="2.2" stroke-dasharray="3.2 3.2" fill="none"/>
<line x1="1485.8" y1="14" x2="1485.8" y2="542" stroke="#a0a0a0" stroke-width="2.6"/>
<line x1="1484.5" y1="541.2" x2="1993" y2="541.2" stroke="#a0a0a0" stroke-width="2.6"/>
<path d="M1485.9 58.0 C1494.3 62.4 1520.0 76.8 1536.1 84.4 C1552.2 92.0 1572.0 98.5 1582.6 103.4 C1593.1 108.3 1591.3 108.2 1599.4 114.0 C1607.5 119.8 1618.8 132.2 1631.1 138.3 C1643.4 144.5 1663.4 147.9 1673.3 150.9 C1683.2 153.9 1685.6 153.7 1690.2 156.2 C1694.8 158.7 1697.5 160.4 1701.0 166.0 C1704.5 171.6 1707.6 182.2 1711.0 189.7 C1714.4 197.2 1718.2 202.7 1721.5 210.8 C1724.8 218.9 1727.9 229.4 1730.5 238.2 C1733.1 247.0 1734.2 255.2 1737.0 263.6 C1739.8 272.1 1744.1 281.9 1747.6 288.9 C1751.1 295.9 1754.6 301.2 1758.1 305.8 C1761.6 310.4 1764.5 312.4 1768.7 316.3 C1772.9 320.2 1778.1 325.9 1783.4 329.5 C1788.7 333.1 1795.0 335.5 1800.3 338.0 C1805.6 340.5 1810.5 341.7 1815.1 344.5 C1819.7 347.3 1824.8 352.0 1827.8 355.0 C1830.8 358.0 1830.8 358.4 1833.1 362.5 C1835.4 366.6 1838.4 373.9 1841.6 379.5 C1844.8 385.1 1847.2 392.2 1852.1 396.0 C1857.0 399.8 1862.3 400.9 1871.1 402.5 C1879.9 404.1 1897.2 403.4 1904.9 405.5 C1912.6 407.6 1914.0 411.2 1917.5 415.0 C1921.0 418.8 1922.8 422.7 1926.0 428.0 C1929.2 433.3 1933.0 440.7 1936.5 447.0 C1940.0 453.3 1944.3 460.8 1947.1 466.0 C1949.9 471.2 1950.6 474.0 1953.4 478.5 C1956.2 483.0 1960.5 488.8 1964.0 493.0 C1967.5 497.2 1971.3 500.7 1974.5 503.5 C1977.7 506.3 1981.6 508.6 1983.0 509.6" fill="none" stroke="#ff2020" stroke-width="2.6" stroke-linejoin="round"/>
<path d="M1485.9 51.7 C1494.3 56.1 1520.0 69.8 1536.1 78.1 C1552.2 86.4 1571.3 95.3 1582.6 101.3 C1593.9 107.3 1598.1 110.1 1603.7 114.0 C1609.3 117.9 1611.7 121.3 1616.3 124.6 C1620.9 127.9 1623.3 130.8 1631.1 134.0 C1638.8 137.2 1652.6 140.2 1662.8 143.6 C1673.0 146.9 1685.6 150.2 1692.3 154.1 C1699.0 158.0 1699.6 161.2 1703.0 167.0 C1706.4 172.8 1709.2 181.8 1712.5 189.0 C1715.8 196.2 1719.4 202.3 1722.5 210.5 C1725.6 218.7 1728.5 229.3 1731.0 238.2 C1733.5 247.0 1734.7 255.2 1737.5 263.6 C1740.3 272.1 1744.5 281.9 1748.0 288.9 C1751.5 295.9 1755.0 301.2 1758.5 305.8 C1762.0 310.4 1764.5 312.4 1768.7 316.3 C1772.9 320.2 1778.1 325.5 1783.4 329.0 C1788.7 332.5 1795.0 334.9 1800.3 337.4 C1805.6 339.9 1810.5 341.0 1815.1 343.8 C1819.7 346.6 1824.7 351.3 1827.8 354.3 C1830.9 357.3 1831.1 357.6 1833.5 361.7 C1835.9 365.8 1838.8 373.0 1842.0 378.6 C1845.2 384.2 1847.7 391.5 1852.5 395.4 C1857.3 399.3 1862.4 400.2 1871.1 401.8 C1879.8 403.4 1897.2 402.8 1904.9 404.9 C1912.6 407.0 1913.9 410.7 1917.5 414.4 C1921.1 418.1 1923.2 421.8 1926.5 427.1 C1929.8 432.4 1933.5 439.8 1937.0 446.1 C1940.5 452.4 1944.7 459.8 1947.5 465.1 C1950.3 470.4 1951.0 473.2 1953.8 477.8 C1956.5 482.4 1960.5 488.3 1964.0 492.5 C1967.5 496.7 1971.3 500.3 1974.5 503.1 C1977.7 505.9 1981.6 508.3 1983.0 509.4" fill="none" stroke="#b0b020" stroke-width="2.6" stroke-linejoin="round"/>
<path d="M1485.9 56.0 L1492.0 60.0 1500.2 68.6 1510.0 66.0 1520.0 70.0 1527.0 68.0 1529.8 70.7 1540.3 90.8 1548.0 88.0 1555.1 88.7 1566.0 93.0 1580.4 99.2 1586.8 109.8 1597.3 118.2 1603.0 123.0 1610.0 128.8 1618.0 127.5 1630.0 131.0 1639.5 130.9 1650.0 140.0 1658.5 147.8 1669.1 143.6 1677.5 153.0 1683.0 151.0 1689.2 148.8 1696.5 160.4 1705.0 179.4 1712.0 196.0 1718.0 208.7 1725.0 228.0 1732.8 257.2 1738.0 270.0 1745.0 285.0 1753.0 298.0 1762.3 314.2 1772.0 320.0 1783.0 329.0 1795.0 335.0 1800.3 336.0 1804.0 333.0 1808.8 333.5 1815.1 343.8 1826.0 353.0 1833.1 362.0 1841.6 379.0 1850.0 394.0 1855.2 394.4 1860.0 393.5 1866.0 400.0 1871.1 401.8 1880.0 403.0 1891.1 409.2 1894.3 410.2 1899.5 407.1 1904.9 408.1 1911.0 410.0 1917.5 418.7 1926.0 430.0 1934.0 443.0 1942.9 454.6 1947.1 466.0 1955.0 479.0 1964.0 492.5 1974.0 502.5 1983.0 509.4" fill="none" stroke="#1a1a1a" stroke-width="2.4" stroke-linejoin="round" opacity="0.85"/>
<line x1="1819.3" y1="217.1" x2="1727.2" y2="167.5" stroke="#999900" stroke-width="5.0"/><polygon points="1709.6,158.0 1737.6,160.8 1726.1,166.9 1727.4,179.8" fill="#999900"/>
<line x1="1835.2" y1="242.4" x2="1742.0" y2="192.7" stroke="#ff0000" stroke-width="5.0"/><polygon points="1724.3,183.3 1752.3,186.0 1740.8,192.1 1742.2,205.1" fill="#ff0000"/>
<text x="1817.0" y="219.2" font-size="49.5" fill="#999900" text-anchor="start" style="font-family:'Liberation Sans',Arial,Helvetica,sans-serif;font-weight:bold" >V<tspan font-size="32.0">5</tspan>O<tspan font-size="32.0">9</tspan></text>
<text x="1840.3" y="264.6" font-size="49.5" fill="#ff0000" text-anchor="start" style="font-family:'Liberation Sans',Arial,Helvetica,sans-serif;font-weight:bold" >V<tspan font-size="32.0">4</tspan>O<tspan font-size="32.0">7</tspan></text>
<text x="1487.8" y="573.9" font-size="34.0" fill="#000" text-anchor="middle" style="font-family:'Liberation Sans',Arial,Helvetica,sans-serif;font-weight:bold" >75</text>
<text x="1585.1" y="573.9" font-size="34.0" fill="#000" text-anchor="middle" style="font-family:'Liberation Sans',Arial,Helvetica,sans-serif;font-weight:bold" >95</text>
<text x="1684.5" y="573.9" font-size="34.0" fill="#000" text-anchor="middle" style="font-family:'Liberation Sans',Arial,Helvetica,sans-serif;font-weight:bold" >115</text>
<text x="1783.8" y="573.9" font-size="34.0" fill="#000" text-anchor="middle" style="font-family:'Liberation Sans',Arial,Helvetica,sans-serif;font-weight:bold" >135</text>
<text x="1883.2" y="573.9" font-size="34.0" fill="#000" text-anchor="middle" style="font-family:'Liberation Sans',Arial,Helvetica,sans-serif;font-weight:bold" >155</text>
<text x="1982.5" y="573.9" font-size="34.0" fill="#000" text-anchor="middle" style="font-family:'Liberation Sans',Arial,Helvetica,sans-serif;font-weight:bold" >175</text>
<text x="1729.5" y="618.2" font-size="50.0" fill="#000" text-anchor="middle" style="font-family:'Liberation Sans',Arial,Helvetica,sans-serif;font-weight:bold" >Channel</text>
<text x="0.0" y="0.0" font-size="50.0" fill="#000" text-anchor="middle" style="font-family:'Liberation Sans',Arial,Helvetica,sans-serif;font-weight:bold" transform="translate(1471,276) rotate(-90)">Counts</text>
</svg>
</body></html>
